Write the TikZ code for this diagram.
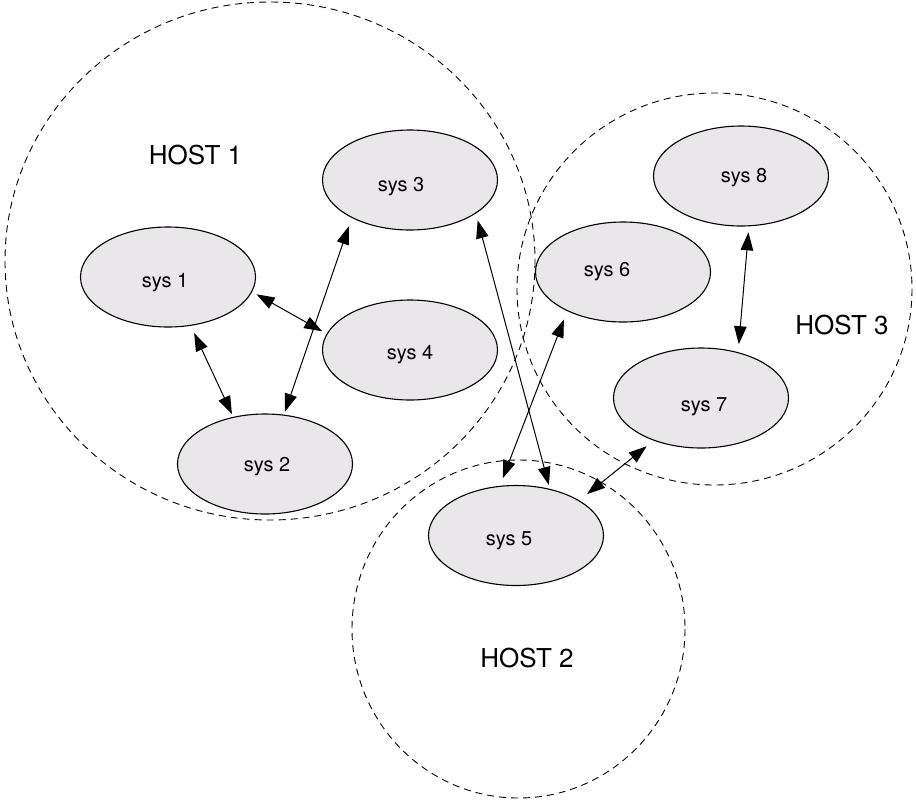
\documentclass[tikz,border=0pt]{standalone}
\usepackage{fontspec}
\setmainfont{TeX Gyre Heros}
\usetikzlibrary{arrows.meta,shapes.geometric}
\definecolor{sysgray}{RGB}{233,231,233}

\begin{document}
\begin{tikzpicture}[x=1pt,y=-1pt,
  hostline/.style={draw=black, line width=0.9pt, dash pattern=on 7pt off 5pt},
  sysnode/.style={ellipse, draw=black, line width=1.1pt, fill=sysgray,
    minimum width=175pt, minimum height=100pt, inner sep=0pt},
  systext/.style={font=\fontsize{20}{24}\selectfont, inner sep=0pt},
  hosttext/.style={font=\fontsize{26}{30}\selectfont, inner sep=0pt},
  biarrow/.style={{Triangle[length=18pt,width=12.5pt]}-{Triangle[length=18pt,width=12.5pt]},
    line width=1pt}]

\useasboundingbox (0,0) rectangle (916,801);

% host boundaries
\draw[hostline] (270,261) ellipse [x radius=265, y radius=259];
\draw[hostline] (714.5,289) ellipse [x radius=197.5, y radius=196];
\draw[hostline] (518.5,629) ellipse [x radius=166.5, y radius=169];

\node[hosttext] (h1) at (195.5,155) {HOST 1};
\node[hosttext] (h2) at (527,658) {HOST 2};
\node[hosttext] (h3) at (842,325) {HOST 3};

% systems
\node[sysnode] (s1) at (168,277) {};
\node[sysnode] (s2) at (265,464) {};
\node[sysnode] (s3) at (410,180) {};
\node[sysnode] (s4) at (410,350) {};
\node[sysnode] (s5) at (516,535.5) {};
\node[sysnode] (s6) at (623,272) {};
\node[sysnode] (s7) at (701,398) {};
\node[sysnode] (s8) at (741,176) {};

\node[systext] (t1) at (165,283) {sys 1};
\node[systext] (t2) at (267,467) {sys 2};
\node[systext] (t3) at (401,187) {sys 3};
\node[systext] (t4) at (410,355) {sys 4};
\node[systext] (t5) at (509,540.5) {sys 5};
\node[systext] (t6) at (607,272) {sys 6};
\node[systext] (t7) at (704,407) {sys 7};
\node[systext] (t8) at (744,178) {sys 8};

% links
\draw[biarrow, shorten <=5pt, shorten >=5pt] (s1.-10.9) -- (s4.169.1);
\draw[biarrow, shorten <=8pt, shorten >=3pt] (s1.-65.1) -- (s2.124);
\draw[biarrow, shorten <=3pt, shorten >=9pt] (s2.69.9) -- (s3.-147.5);
\draw[biarrow, shorten <=7pt, shorten >=4pt] (s3.-27.5) -- (s5.54.6);
\draw[biarrow, shorten <=9pt, shorten >=8pt] (s6.-145.3) -- (s5.108.4);
\draw[biarrow, shorten <=6pt, shorten >=8pt] (s8.-81.9) -- (s7.51.5);
\draw[biarrow, shorten <=9pt, shorten >=10pt] (s7.-138.4) -- (s5.29.4);
\end{tikzpicture}
\end{document}
